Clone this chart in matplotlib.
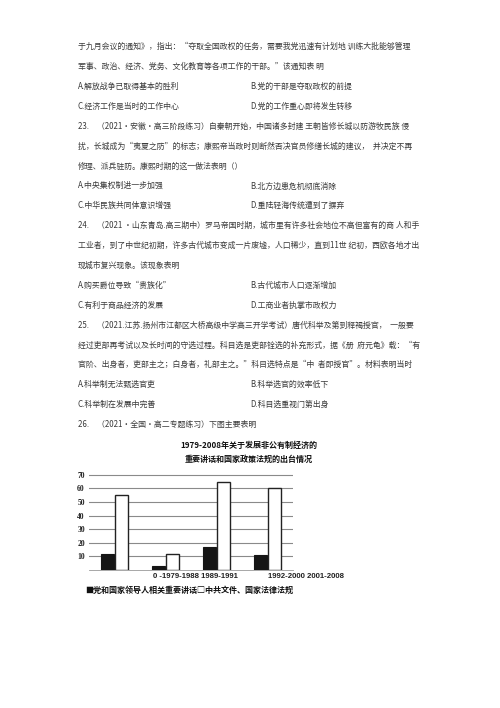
import matplotlib
matplotlib.use('Agg')
import matplotlib.pyplot as plt
import numpy as np

plt.rcParams['font.family'] = ['Noto Sans CJK SC', 'DejaVu Sans']

# page text, one entry per printed line (left column, right column)
page_lines = [
    ('于九月会议的通知》，指出：“夺取全国政权的任务，需要我党迅速有计划地 训练大批能够管理', ''),
    ('军事、政治、经济、党务、文化教育等各项工作的干部。”该通知表 明', ''),
    ('A.解放战争已取得基本的胜利', 'B.党的干部是夺取政权的前提'),
    ('C.经济工作是当时的工作中心', 'D.党的工作重心即将发生转移'),
    ('23.　（2021·安徽·高三阶段练习）自秦朝开始，中国诸多封建 王朝皆修长城以防游牧民族 侵', ''),
    ('扰，长城成为“夷夏之防”的标志；康熙帝当政时则断然否决官员修缮长城的建议，  并决定不再', ''),
    ('修理、派兵驻防。康熙时期的这一做法表明（）', ''),
    ('A.中央集权制进一步加强', 'B.北方边患危机彻底消除'),
    ('C.中华民族共同体意识增强', 'D.重陆轻海传统遭到了摒弃'),
    ('24.　（2021 ·山东青岛.高三期中）罗马帝国时期，城市里有许多社会地位不高但富有的商 人和手', ''),
    ('工业者，到了中世纪初期，许多古代城市变成一片废墟，人口稀少，直到11世 纪初，西欧各地才出', ''),
    ('现城市复兴现象。该现象表明', ''),
    ('A.购买爵位导致“贵族化”', 'B.古代城市人口逐渐增加'),
    ('C.有利于商品经济的发展', 'D.工商业者执掌市政权力'),
    ('25.　（2021.江苏.扬州市江都区大桥高级中学高三开学考试）唐代科举及第到释褐授官，  一般要', ''),
    ('经过吏部再考试以及长时间的守选过程。科目选是吏部铨选的补充形式，据《册  府元龟》载：“有', ''),
    ('官阶、出身者，吏部主之；白身者，礼部主之。”科目选特点是“中  者即授官”。材料表明当时', ''),
    ('A.科举制无法甄选官吏', 'B.科举选官的效率低下'),
    ('C.科举制在发展中完善', 'D.科目选重视门第出身'),
    ('26.　（2021·全国·高二专题练习）下图主要表明', ''),
]

chart_title = ['1979-2008年关于发展非公有制经济的', '重要讲话和国家政策法规的出台情况']
periods = ['1979-1988', '1989-1991', '1992-2000', '2001-2008']
speeches = [12, 3, 17, 11]      # 党和国家领导人相关重要讲话 (black)
documents = [55, 12, 65, 60]    # 中共文件、国家法律法规 (white)
y_ticks = [10, 20, 30, 40, 50, 60, 70]
legend_text = '■党和国家领导人相关重要讲话□中共文件、国家法律法规'

W, H = 500, 708
fig = plt.figure(figsize=(W / 100, H / 100), dpi=100)
fig.patch.set_facecolor('white')

def px(x, y):
    return x / W, 1 - y / H

text_col = '#3a3a3a'
for i, (left, right) in enumerate(page_lines):
    y = 46.7 + 19.88 * i
    fig.text(*px(78, y), left, fontsize=5.7, color=text_col, va='center', ha='left')
    if right:
        fig.text(*px(250, y), right, fontsize=5.7, color=text_col, va='center', ha='left')

# chart title
fig.text(*px(249, 445), chart_title[0], fontsize=5.8, fontweight='bold', ha='center', va='center', color='#111')
fig.text(*px(249, 459), chart_title[1], fontsize=5.8, fontweight='bold', ha='center', va='center', color='#111')

# bar chart
x0, x1 = 89, 293
ytop = 570 - 72 * 13.6 / 10
ax = fig.add_axes([x0 / W, 1 - 570 / H, (x1 - x0) / W, (570 - ytop) / H])
xs = np.arange(len(periods))
bw = 0.24
ax.bar(xs - 0.135, speeches, width=bw, color='#151515', edgecolor='#151515', linewidth=0.8, zorder=3)
ax.bar(xs + 0.135, documents, width=bw, color='white', edgecolor='#222', linewidth=1.0, zorder=3)
ax.set_xlim(-0.5, 3.5)
ax.set_ylim(0, 72)
ax.set_yticks(y_ticks)
ax.set_yticklabels([str(v) for v in y_ticks], fontsize=5.5, fontweight='bold',
                   family=['Liberation Serif', 'DejaVu Serif'], color='#222')
ax.tick_params(axis='y', length=0, pad=3)
ax.set_xticks([])
for s in ax.spines.values():
    s.set_visible(False)
ax.spines['bottom'].set_visible(True)
ax.spines['bottom'].set_color('#999')
ax.spines['bottom'].set_linewidth(0.6)
ax.grid(axis='y', color='#8a8a8a', linewidth=0.8, zorder=0)

# category labels as printed
lab1 = '0 -' + periods[0] + ' ' + periods[1]
lab2 = periods[2] + ' ' + periods[3]
fig.text(*px(153, 576), lab1, fontsize=5.6, fontweight='bold', family=['Liberation Sans', 'DejaVu Sans'],
         ha='left', va='center', color='#222')
fig.text(*px(268, 576), lab2, fontsize=5.6, fontweight='bold', family=['Liberation Sans', 'DejaVu Sans'],
         ha='left', va='center', color='#222')

fig.text(*px(85, 590), legend_text, fontsize=5.8, fontweight='bold', ha='left', va='center', color='#111')

fig.savefig('out.png', dpi=100, facecolor='white')
